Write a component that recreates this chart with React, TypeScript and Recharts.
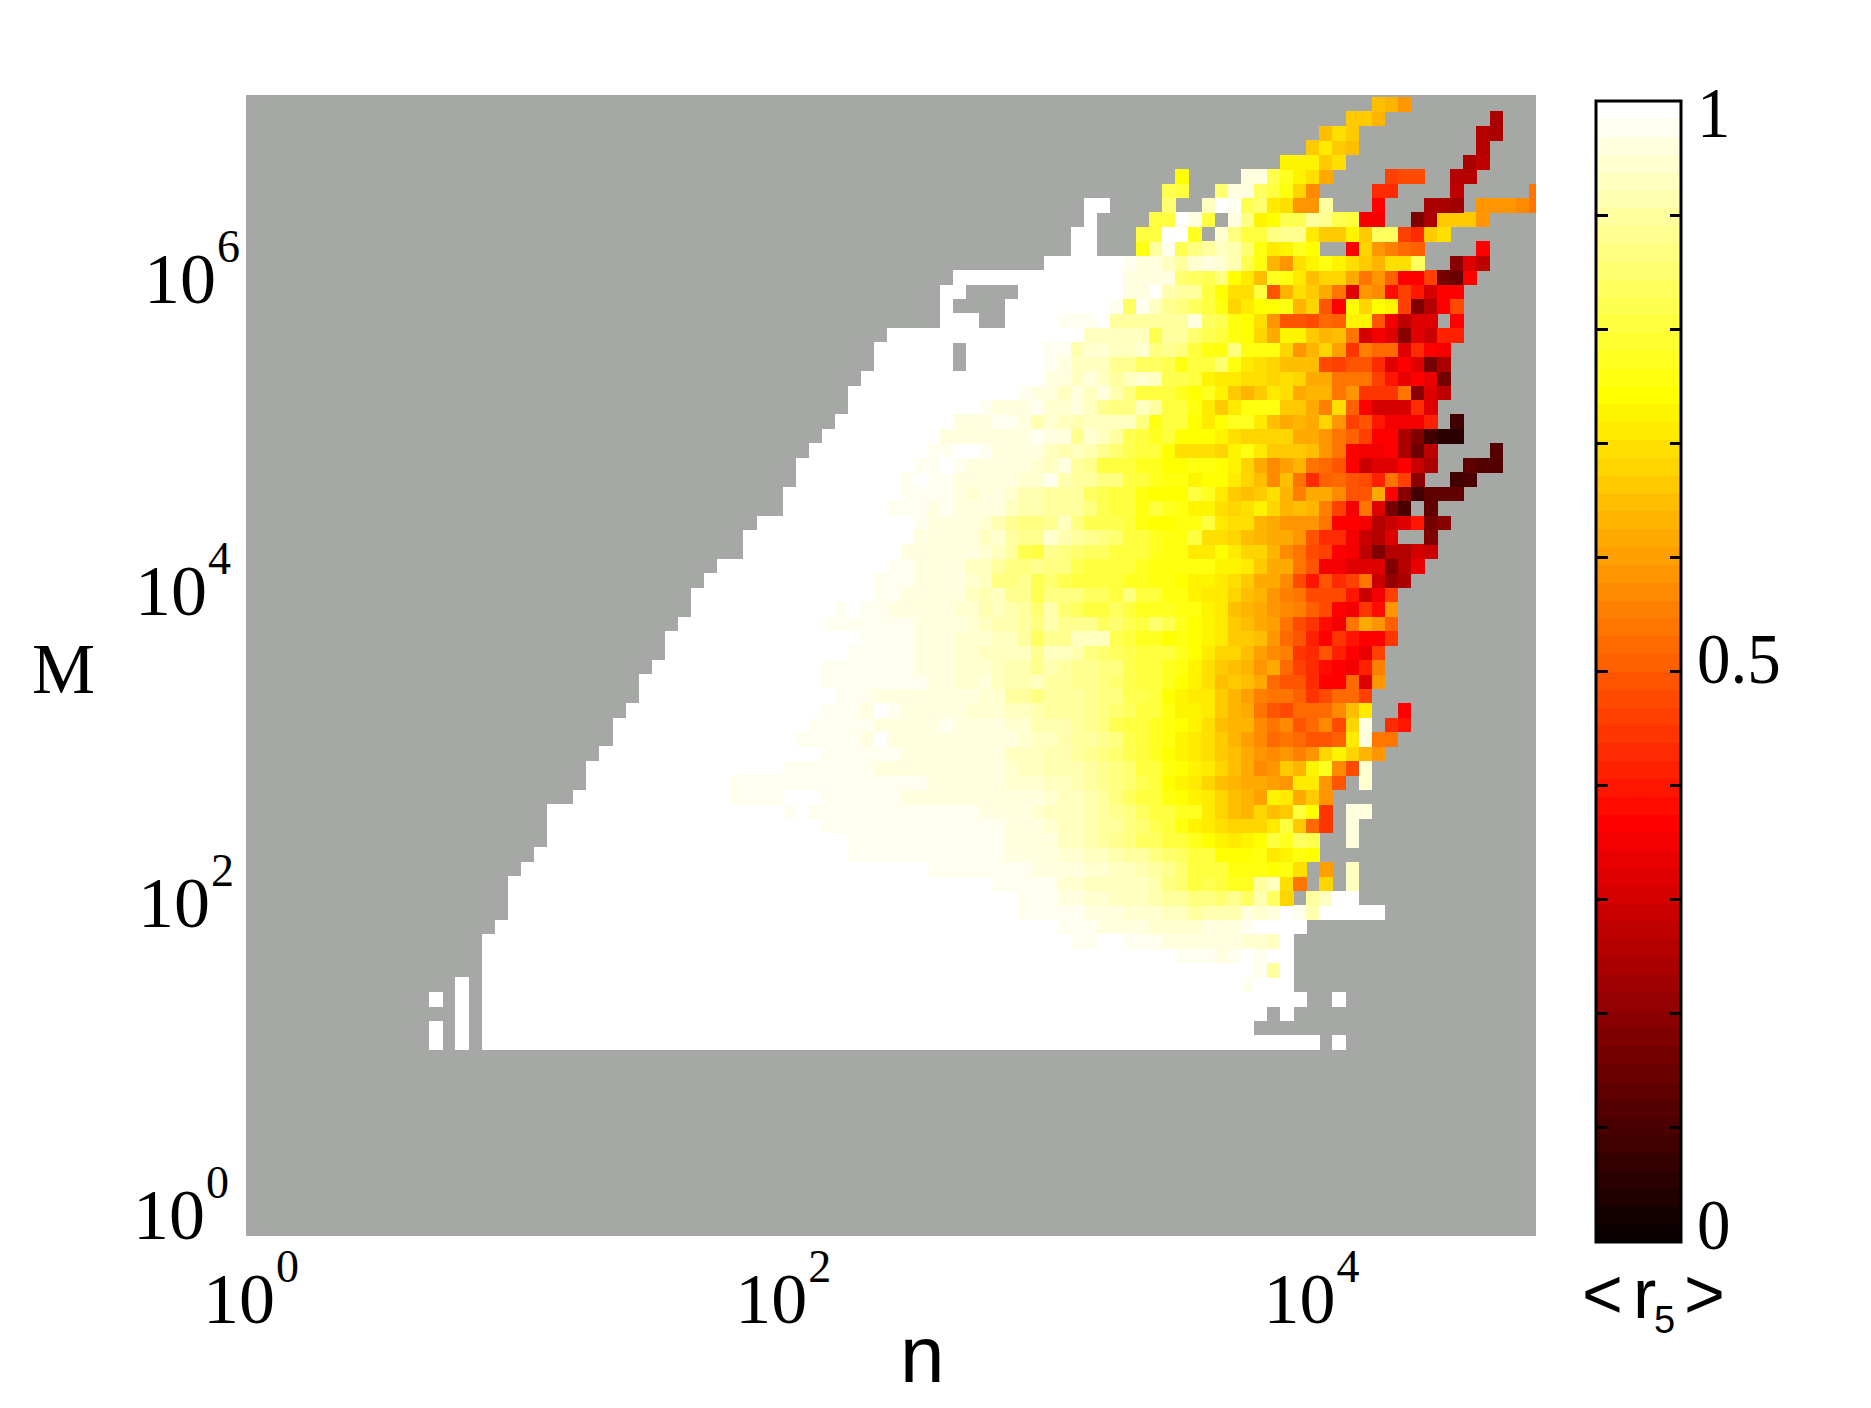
import { ReferenceArea, Scatter, ScatterChart, XAxis, YAxis } from 'recharts'

// plot box in pixels, one decade and one bin of the log-log grid
const PLOT_W = 1290
const PLOT_H = 1142
const DECADE_X = 265.6
const DECADE_Y = 156
const CELL_W = 13.09
const CELL_H = 14.43
const GREY = '#a6a8a5'
const SERIF = '"Liberation Serif", serif'
const SANS = '"Liberation Sans", sans-serif'

const xExponents = [0, 2, 4]
const xTickLeft = [-43, -42, -45]
const yExponents = [0, 2, 4, 6]
const yTickLeft = [133, 138, 135, 144]

// [M bin, first n bin, last n bin] runs where <r5> is 1
const saturatedRuns = [
  [13, 14, 14], [13, 16, 16], [13, 18, 81], [13, 83, 83],
  [14, 14, 14], [14, 16, 16], [14, 18, 76],
  [15, 16, 16], [15, 18, 77], [15, 79, 79],
  [16, 14, 14], [16, 16, 16], [16, 18, 80], [16, 83, 83],
  [17, 16, 16], [17, 18, 75],
  [18, 18, 76], [19, 18, 70], [20, 18, 62], [21, 19, 61], [22, 20, 58], [23, 20, 58], [24, 20, 56],
  [25, 21, 51], [26, 22, 45], [27, 23, 45], [28, 23, 43], [29, 23, 40], [30, 25, 36], [31, 26, 36],
  [32, 26, 40], [33, 27, 43], [34, 28, 41], [35, 28, 42], [36, 29, 43], [37, 30, 44], [38, 30, 43],
  [39, 31, 43], [40, 32, 45], [41, 32, 46], [42, 33, 43], [43, 34, 44], [44, 34, 47], [45, 35, 47],
  [46, 36, 48], [47, 38, 49], [48, 38, 50], [49, 39, 50], [50, 41, 48], [51, 41, 49], [52, 42, 49],
  [53, 42, 50], [54, 43, 51], [55, 44, 52], [56, 45, 53], [57, 46, 55], [58, 46, 58], [59, 47, 60],
  [60, 48, 53], [60, 55, 60], [61, 48, 53], [61, 55, 60], [62, 49, 63],
  [63, 53, 55], [63, 58, 61], [64, 53, 53], [64, 58, 65], [65, 53, 54], [65, 59, 66],
  [66, 54, 66], [67, 61, 66], [68, 63, 64], [69, 63, 64], [70, 64, 64], [71, 64, 65],
]

// [M bin, first n bin, ...<r5> in percent], -1 is an empty bin
const lowRows = [
  [17, 76, 99, 100, 100, 100],
  [18, 77, 99, 87, 100],
  [19, 71, 98, 98, 98, 96, 98, 100, 98, 100, 100],
  [20, 63, 99, 99, 100, 100, 98, 98, 98, 97, 97, 97, 97, 97, 96, 94, 94, 91, 100],
  [21, 62, 98, 98, 98, 97, 96, 96, 96, 94, 94, 93, 93, 97, 96, 96, 98, 100, 100, 100, 100],
  [22, 59, 99, 99, 99, 98, 98, 97, 96, 95, 94, 94, 94, 90, 90, 87, 88, 89, 88, 95, 93, 97, 100, 98, 88, 100, 100, 100, 100, 100],
  [23, 59, 99, 99, 99, 95, 95, 94, 93, 92, 90, 90, 89, 87, 86, 84, 84, 82, 85, 81, 88, 81, 68, -1, 87, 90, 100, 100],
  [24, 57, 99, 99, 99, 99, 98, 94, 94, 92, 92, 91, 90, 90, 88, 84, 82, 79, 80, 78, 77, 77, 87, 90, 70, 52, -1, 68, -1, 90],
  [25, 52, 99, 99, 99, 99, 99, 99, 99, 99, 97, 97, 96, 95, 94, 94, 91, 90, 89, 87, 85, 82, 79, 79, 78, 76, 76, 76, 75, 76, 70, -1, 59, -1, 92],
  [26, 46, 99, 99, 99, 99, 99, 99, 99, 99, 99, 99, 99, 99, 97, 97, 97, 96, 93, 93, 91, 90, 88, 87, 86, 83, 82, 81, 79, 78, 75, 75, 75, 76, 72, 74, 76, 75],
  [27, 46, 99, 99, 99, 99, 99, 99, 99, 99, 99, 99, 99, 99, 97, 97, 97, 97, 91, 90, 89, 87, 85, 83, 81, 81, 79, 78, 77, 75, 73, 71, 73, 75, 78, 77, 81, 80, -1, -1, 96],
  [28, 44, 99, 99, 99, 99, 99, 99, 99, 99, 99, 99, 99, 99, 99, 99, 97, 97, 95, 94, 90, 90, 88, 87, 86, 84, 82, 80, 78, 76, 74, 72, 70, 69, 69, 69, 72, 78, 67, 51, 43, -1, 96],
  [29, 41, 98, 100, 99, 99, 99, 99, 99, 99, 99, 99, 99, 99, 99, 99, 98, 97, 97, 97, 96, 93, 91, 90, 90, 88, 87, 85, 83, 81, 79, 78, 77, 77, 72, 69, 65, 63, 68, 65, 66, 78, 75, 43, -1, 96, 96],
  [30, 37, 99, 99, 99, 99, 100, 100, 100, 99, 99, 99, 99, 99, 99, 97, 97, 97, 97, 97, 97, 97, 97, 96, 95, 95, 94, 92, 90, 88, 86, 84, 81, 79, 78, 76, 75, 74, 72, 69, 65, 62, 59, 73, 71, 61, 66, 57],
  [31, 37, 99, 99, 99, 99, 99, 99, 99, 99, 99, 99, 99, 99, 99, 99, 99, 97, 97, 97, 97, 97, 95, 94, 94, 93, 92, 90, 89, 87, 85, 83, 82, 80, 78, 75, 73, 71, 68, 65, 62, 61, 60, 59, 57, 71, 71, 58, 48, -1, 93],
  [32, 41, 99, 99, 99, 99, 99, 99, 99, 97, 97, 97, 97, 97, 97, 95, 95, 95, 95, 94, 92, 90, 88, 88, 88, 86, 85, 84, 82, 79, 78, 76, 75, 73, 71, 68, 65, 61, 56, 58, 66, 63, 73, 77, 56, 45, 93],
  [33, 44, 99, 99, 99, 99, 99, 99, 97, 97, 97, 97, 97, 96, 95, 95, 92, 92, 90, 89, 88, 86, 85, 84, 82, 80, 78, 77, 75, 74, 72, 70, 67, 64, 61, 58, 55, 58, 54, 57, 68, 74, 68, 62, 57],
  [34, 42, 99, 99, 99, 99, 99, 97, 100, 97, 97, 97, 97, 96, 96, 95, 95, 95, 95, 93, 90, 91, 89, 87, 87, 85, 83, 80, 79, 77, 76, 74, 72, 70, 66, 63, 59, 55, 50, 52, 50, 47, 47, 49, 72, 96, 53, 53],
  [35, 43, 99, 99, 99, 99, 99, 97, 97, 97, 97, 97, 98, 96, 95, 95, 95, 93, 93, 88, 88, 88, 87, 85, 84, 80, 79, 79, 77, 76, 75, 73, 70, 64, 63, 62, 55, 52, 56, 48, 51, 56, 45, 68, 97, -1, 42, 40],
  [36, 44, 99, 99, 99, 97, 100, 98, 97, 97, 95, 95, 95, 93, 93, 93, 92, 92, 88, 87, 87, 87, 85, 84, 82, 81, 79, 78, 76, 74, 73, 71, 67, 62, 60, 52, 47, 45, 50, 50, 50, 55, 64, 72, -1, -1, 38],
  [37, 45, 99, 99, 99, 97, 97, 96, 95, 95, 95, 95, 95, 93, 93, 87, 87, 83, 87, 86, 86, 85, 84, 83, 80, 80, 78, 75, 74, 72, 71, 67, 63, 59, 54, 53, 53, 49, 43, 45, 50, 50, 44],
]

const midRows = [
  [38, 44, 99, 99, 99, 99, 98, 98, 98, 98, 96, 96, 93, 93, 97, 90, 88, 88, 90, 87, 86, 85, 85, 84, 82, 80, 79, 78, 77, 75, 73, 70, 65, 66, 65, 60, 50, 47, 47, 42, 37, 37, 50, 32, 58],
  [39, 44, 99, 99, 99, 99, 99, 98, 98, 96, 96, 96, 93, 93, 93, 91, 88, 88, 85, 88, 87, 85, 85, 83, 83, 80, 79, 78, 77, 76, 74, 70, 66, 65, 63, 58, 61, 50, 44, 42, 39, 38, 36, 41, 54],
  [40, 46, 99, 99, 99, 98, 98, 96, 96, 96, 94, 94, 90, 90, 90, 90, 85, 92, 90, 88, 84, 82, 81, 80, 79, 79, 78, 77, 75, 72, 69, 69, 65, 59, 55, 54, 43, 42, 47, 41, 38, 34, 44],
  [41, 47, 99, 99, 99, 99, 97, 96, 97, 94, 94, 93, 90, 90, 87, 81, 85, 85, 90, 90, 90, 80, 79, 77, 77, 75, 76, 75, 74, 71, 66, 66, 64, 58, 50, 47, 41, 37, 43, 40, 37, 37, 43],
  [42, 44, 99, 99, 99, 99, 99, 99, 99, 97, 96, 96, 96, 94, 92, 89, 88, 86, 84, 88, 85, 85, 85, 81, 82, 80, 79, 82, 80, 77, 75, 73, 72, 67, 65, 61, 59, 53, 46, 43, 39, 35, 52, 60, 58, 49],
  [43, 45, 99, 100, 98, 98, 97, 96, 96, 96, 96, 93, 93, 88, 91, 89, 86, 82, 88, 82, 81, 79, 79, 81, 79, 77, 77, 77, 76, 76, 74, 71, 65, 63, 61, 57, 56, 54, 49, 46, 38, 36, 43, 39, 57],
  [44, 48, 99, 99, 97, 97, 97, 96, 96, 91, 88, 90, 85, 85, 80, 84, 84, 84, 81, 81, 78, 83, 79, 79, 76, 76, 74, 72, 72, 68, 64, 63, 58, 54, 52, 46, 45, 45, 40, 30, 36, 44],
  [45, 48, 98, 98, 99, 97, 97, 96, 96, 94, 90, 83, 84, 85, 80, 82, 80, 79, 78, 78, 79, 77, 77, 76, 76, 75, 74, 73, 71, 70, 67, 60, 60, 55, 45, 40, 47, 42, 44, 52, 30, 21, 25],
  [46, 49, 99, 99, 97, 97, 96, 96, 92, 91, 87, 84, 83, 85, 84, 83, 80, 78, 78, 78, 78, 77, 76, 76, 76, 76, 76, 74, 73, 72, 66, 60, 60, 53, 47, 36, 36, 33, 33, 33, 18, 26, 34],
  [47, 50, 97, 97, 97, 96, 96, 95, 93, 90, 87, 80, 78, 85, 84, 82, 81, 81, 79, 78, 78, 77, 76, 76, 71, 71, 75, 72, 69, 68, 63, 56, 53, 45, 44, 38, 35, 27, 19, 26, 26, 31, 29],
  [48, 51, 97, 97, 97, 95, 95, 92, 93, 86, 85, 85, 93, 88, 87, 85, 84, 82, 78, 78, 77, 76, 76, 78, 70, 70, 68, 64, 62, 60, 60, 57, 48, 42, 42, 36, 30, 26, 32, -1, -1, 19],
  [49, 51, 99, 97, 97, 97, 95, 94, 88, 85, 84, 84, 85, 90, 83, 80, 80, 80, 78, 76, 75, 75, 76, 76, 78, 71, 70, 70, 63, 61, 57, 57, 57, 53, 37, 37, 36, 26, 30, 33, 40, 17, 20],
  [50, 49, 98, 98, 98, 96, 98, 96, 96, 96, 96, 90, 88, 88, 87, 87, 87, 84, 80, 78, 78, 76, 78, 77, 76, 74, 74, 70, 68, 70, 74, 68, 62, 64, 62, 54, 44, 36, 52, 33, 17, 10, -1, 14],
  [51, 50, 99, 99, 99, 98, 97, 94, 97, 97, 94, 88, 88, 87, 86, 86, 81, 80, 78, 79, 76, 75, 75, 75, 78, 77, 71, 67, 64, 66, 70, 62, 54, 60, 60, 55, 48, 48, 60, 37, 20, 8, 14, 13, 13],
  [52, 50, 98, 100, 98, 98, 97, 97, 95, 95, 95, 94, 94, 98, 89, 87, 87, 84, 84, 79, 79, 77, 76, 76, 74, 75, 75, 72, 68, 65, 55, 64, 52, 42, 49, 50, 47, 46, 41, 52, 44, 20, -1, -1, 9, 10],
  [53, 51, 99, 98, 100, 98, 97, 96, 97, 97, 96, 93, 90, 95, 87, 85, 78, 79, 79, 77, 77, 75, 75, 76, 76, 75, 73, 69, 60, 56, 59, 62, 53, 50, 47, 38, 30, 33, 33, 38, 29, 24, -1, -1, 14, 12, 12],
  [54, 52, 98, 98, 100, 100, 99, 96, 96, 96, 95, 92, 88, 92, 88, 85, 82, 80, 79, 78, 75, 70, 70, 70, 68, 73, 76, 71, 66, 66, 66, 64, 57, 52, 38, 35, 36, 37, 24, 15, 27, -1, -1, -1, -1, 12],
  [55, 53, 97, 97, 97, 97, 95, 95, 95, 98, 97, 96, 85, 93, 90, 87, 80, 78, 77, 78, 75, 75, 75, 73, 70, 69, 68, 68, 68, 61, 60, 58, 52, 49, 44, 38, 38, 24, 18, 8, 6, 6],
  [56, 54, 97, 97, 97, 98, 99, 97, 88, 93, 90, 88, 90, 90, 90, 90, 84, 76, 78, 78, 75, 71, 75, 77, 77, 71, 64, 60, 62, 60, 68, 58, 44, 47, 40, 36, 35, 35, 41, -1, 8],
]

const highRows = [
  [57, 56, 98, 97, 97, 97, 99, 93, 93, 95, 90, 85, 84, 84, 90, 86, 78, 78, 76, 71, 66, 72, 76, 76, 76, 66, 66, 60, 54, 70, 49, 38, 31, 31, 31, 42, 33],
  [58, 59, 98, 97, 96, 91, 95, 92, 95, 88, 83, 79, 78, 78, 77, 75, 77, 74, 67, 63, 67, 72, 70, 60, 63, 63, 52, 57, 43, 43, 43, 52, 20, 33, 27],
  [59, 61, 97, 95, 92, 97, 90, 87, 92, 93, 90, 80, 80, 78, 74, 71, 72, 70, 70, 69, 70, 68, 60, 60, 52, 52, 52, 44, 40, 34, 38, 34, 16],
  [60, 61, 99, 95, 91, 91, 90, 85, 85, 81, 81, 80, 76, 79, 79, 82, 76, 71, 70, 68, 65, 65, 64, 46, 44, 47, 47, 42, 32, 37, 32, 17, 24],
  [61, 61, 99, 98, 89, 93, 93, 91, 90, 94, 83, 85, 83, 78, 76, 76, 84, 76, 76, 76, 68, 57, 62, 68, 59, 43, 54, 50, 50, 33, 42, 37, 35],
  [62, 64, 92, 92, 91, 91, 92, 80, 86, 86, 82, 80, 78, 76, 75, 69, 60, 73, 73, 67, 62, 65, 52, 31, 35, 33, 20, 33, 30, 41, 41],
  [63, 62, 99, 99, 99, 100, 87, 87, 87, 87, 86, 86, 96, 81, 80, 76, 75, 70, 57, 48, 47, 45, 51, 49, 73, 74, 47, 35, 27, 33, 33, -1, 37],
  [64, 66, 98, 81, 99, 91, 85, 84, 81, 79, 76, 69, 71, 75, 75, 76, 63, 68, 48, 38, 75, 69, 75, 74, 44, 18, 26, 37, 46],
  [65, 67, 97, 97, 100, 89, 87, 87, 79, 75, 70, 70, 79, 47, 63, 70, 67, 60, 52, 33, 58, 55, 39, 44, 40, 31, 38, 38],
  [66, 67, 97, 96, 96, 95, 82, 81, 80, 83, 75, 71, 64, 77, 76, 72, 65, 68, 68, 60, 52, 57, 49, 37, 37, 44, 17, 15, 38],
  [67, 67, 99, 95, 95, 92, 87, 94, 96, 93, 89, 80, 76, 62, 57, 70, 73, 76, 74, 70, 66, 62, 70, 70, 81, -1, -1, 20, 33, 27],
  [68, 68, 76, 87, 98, 80, 84, 86, 90, 88, 82, 76, 72, 74, 77, 75, -1, -1, 38, 69, 58, 54, 50, 49, -1, -1, -1, -1, 38],
  [69, 68, 78, 79, 100, 100, 77, -1, 93, 84, 79, 79, 84, 85, 85, 71, 66, 66, 73, 66, 81, 81, 44, 42, 66, 70],
  [70, 69, 78, 78, 100, 95, 78, -1, 97, 83, 74, 75, 80, 80, 86, 85, 80, 78, 36, 36, -1, -1, 18, 24, 66, 66, 66, 58],
  [71, 70, 82, -1, -1, 91, 100, 98, 80, 82, 72, 70, 58, 57, 87, -1, -1, -1, 38, -1, -1, -1, 24, 24, 23, -1, 58, 57, 57, 55, 53],
  [72, 70, 80, 78, -1, -1, 82, 97, 97, 81, 79, 76, 69, 55, -1, -1, -1, -1, 42, 42, -1, -1, -1, -1, 27, -1, -1, -1, -1, -1, 53],
  [73, 71, 75, -1, -1, -1, -1, 97, 95, 80, 77, 74, 70, 60, -1, -1, -1, -1, 44, 45, 45, -1, -1, 26, 26],
  [74, 79, 73, 73, 73, 66, 70, -1, -1, -1, -1, -1, -1, -1, -1, -1, 25, 28],
  [75, 81, 66, 72, 67, 65, -1, -1, -1, -1, -1, -1, -1, -1, -1, 26],
  [76, 82, 65, 70, 67, -1, -1, -1, -1, -1, -1, -1, -1, -1, 26, 25],
  [77, 84, 66, 66, 63, -1, -1, -1, -1, -1, -1, -1, -1, 25],
  [78, 86, 64, 62, 58],
]

const colorbarTicks = [0.1, 0.2, 0.3, 0.4, 0.5, 0.6, 0.7, 0.8, 0.9]
const colorbarLabels = [0, 0.5, 1]
const colorbarLabelLeft = [137, 137, 137]
const colorbarLabelDrop = [7, 11, 36]

// eye readings of the colours against the colour bar: [read, corrected]
const readingFix = [
  [0, 0], [38, 38], [44, 47], [60, 62], [75, 75], [76, 77.5], [78, 81], [80, 84], [82, 86.5],
  [85, 90], [88, 92.5], [90, 94], [93, 95.5], [95, 97], [97, 98], [99, 99], [100, 100],
]

// matlab "hot" with 64 levels
function hotColor(level: number) {
  const i = level + 1
  const r = Math.min(1, i / 24)
  const g = Math.min(1, Math.max(0, (i - 24) / 24))
  const b = Math.min(1, Math.max(0, (i - 48) / 16))
  return `rgb(${Math.round(r * 255)},${Math.round(g * 255)},${Math.round(b * 255)})`
}

function percentColor(percent: number) {
  const upper = readingFix.findIndex(([read]) => read >= percent)
  const [r0, c0] = readingFix[Math.max(0, upper - 1)]
  const [r1, c1] = readingFix[upper]
  const fixed = r1 === r0 ? c1 : c0 + ((percent - r0) * (c1 - c0)) / (r1 - r0)
  return hotColor(Math.min(63, Math.floor(fixed * 0.63)))
}

function makeCell(row: number, col: number, percent: number) {
  return {
    x: ((col + 0.5) * CELL_W) / DECADE_X,
    y: ((row + 0.5) * CELL_H) / DECADE_Y,
    col,
    fill: percentColor(percent),
  }
}

const cells = [
  ...saturatedRuns.flatMap(([row, from, to]) =>
    Array.from({ length: to - from + 1 }, (_, k) => makeCell(row, from + k, 100)),
  ),
  ...[...lowRows, ...midRows, ...highRows].flatMap(([row, first, ...values]) =>
    values.flatMap((value, k) => (value < 0 ? [] : [makeCell(row, first + k, value)])),
  ),
]

const colorbarCells = Array.from({ length: 64 }, (_, level) => ({
  x: 0.5,
  y: (level + 0.5) / 64,
  fill: hotColor(level),
}))

const colorbarMarks = colorbarTicks.map((tick) => ({ x: 0.5, y: tick }))
const colorbarFrame = [{ x: 0.5, y: 0.5 }]

function HeatCell(props: any) {
  const left = props.cx - CELL_W / 2
  // the last bin runs past the right edge of the axes
  const width = Math.min(CELL_W + 0.4, 246 + PLOT_W - left)
  return (
    <rect
      x={left}
      y={props.cy - CELL_H / 2}
      width={width}
      height={CELL_H + 0.4}
      fill={props.payload.fill}
      shapeRendering="crispEdges"
    />
  )
}

function ColorbarCell(props: any) {
  const height = 1141 / 64
  return (
    <rect
      x={props.cx - 42.5}
      y={props.cy - height / 2}
      width={85}
      height={height + 0.4}
      fill={props.payload.fill}
      shapeRendering="crispEdges"
    />
  )
}

function ColorbarMark(props: any) {
  return (
    <g stroke="#000" strokeWidth={3} shapeRendering="crispEdges">
      <line x1={props.cx - 42.5} x2={props.cx - 31} y1={props.cy} y2={props.cy} />
      <line x1={props.cx + 31} x2={props.cx + 42.5} y1={props.cy} y2={props.cy} />
    </g>
  )
}

function ColorbarFrame(props: any) {
  return (
    <rect
      x={props.cx - 42.5}
      y={props.cy - 570.5}
      width={85}
      height={1141}
      fill="none"
      stroke="#000"
      strokeWidth={3}
    />
  )
}

function PowerLabel({ left, baseline, exponent }: { left: number; baseline: number; exponent: number }) {
  return (
    <text x={left} y={baseline} fontFamily={SERIF} fontSize={72} fill="#000">
      10
      <tspan fontSize={46} dx={1} dy={-41}>
        {exponent}
      </tspan>
    </text>
  )
}

function XTick(props: any) {
  const index = xExponents.indexOf(props.payload.value)
  return <PowerLabel left={props.x + xTickLeft[index]} baseline={1323} exponent={props.payload.value} />
}

function YTick(props: any) {
  const index = yExponents.indexOf(props.payload.value)
  return <PowerLabel left={yTickLeft[index]} baseline={props.y + 2} exponent={props.payload.value} />
}

function ColorbarTick(props: any) {
  const index = colorbarLabels.indexOf(props.payload.value)
  return (
    <text
      transform={`translate(${colorbarLabelLeft[index]} ${props.y + colorbarLabelDrop[index]}) scale(0.93 1)`}
      fontFamily={SERIF}
      fontSize={72}
      fill="#000"
    >
      {props.payload.value}
    </text>
  )
}

export default function App() {
  const xMax = PLOT_W / DECADE_X
  const yMax = PLOT_H / DECADE_Y

  return (
    <div style={{ position: 'absolute', left: 0, top: 0, width: 1871, height: 1408, background: '#fff' }}>
      <div style={{ position: 'absolute', left: 0, top: 0 }}>
        <ScatterChart width={1560} height={1408} margin={{ top: 95, right: 24, bottom: 71, left: 46 }}>
          <ReferenceArea x1={0} x2={xMax} y1={1 / DECADE_Y} y2={yMax} fill={GREY} fillOpacity={1} stroke="none" />
          <XAxis
            type="number"
            dataKey="x"
            domain={[0, xMax]}
            ticks={xExponents}
            tick={<XTick />}
            tickLine={false}
            axisLine={false}
            height={100}
            allowDataOverflow
          />
          <YAxis
            type="number"
            dataKey="y"
            domain={[0, yMax]}
            ticks={yExponents}
            tick={<YTick />}
            tickLine={false}
            axisLine={false}
            width={200}
            allowDataOverflow
          />
          <Scatter data={cells} shape={HeatCell} isAnimationActive={false} />
          <text x={32} y={693} fontFamily={SERIF} fontSize={71} fill="#000">
            M
          </text>
          <text x={900} y={1382} fontFamily={SANS} fontSize={80} fill="#000">
            n
          </text>
        </ScatterChart>
      </div>
      <div style={{ position: 'absolute', left: 1560, top: 60 }}>
        <ScatterChart width={311} height={1348} margin={{ top: 41, right: 0, bottom: 166, left: 36 }}>
          <XAxis type="number" dataKey="x" domain={[0, 1]} hide />
          <YAxis
            type="number"
            dataKey="y"
            domain={[0, 1]}
            ticks={colorbarLabels}
            tick={<ColorbarTick />}
            tickLine={false}
            axisLine={false}
            orientation="right"
            width={190}
          />
          <Scatter data={colorbarCells} shape={ColorbarCell} isAnimationActive={false} />
          <Scatter data={colorbarMarks} shape={ColorbarMark} isAnimationActive={false} />
          <Scatter data={colorbarFrame} shape={ColorbarFrame} isAnimationActive={false} />
          <text y={1258} fontFamily={SANS} fontSize={70} fill="#000">
            <tspan x={22}>&lt;</tspan>
            <tspan x={73}>r</tspan>
            <tspan x={94} dy={15} fontSize={38}>5</tspan>
            <tspan x={124} dy={-15}>&gt;</tspan>
          </text>
        </ScatterChart>
      </div>
    </div>
  )
}
